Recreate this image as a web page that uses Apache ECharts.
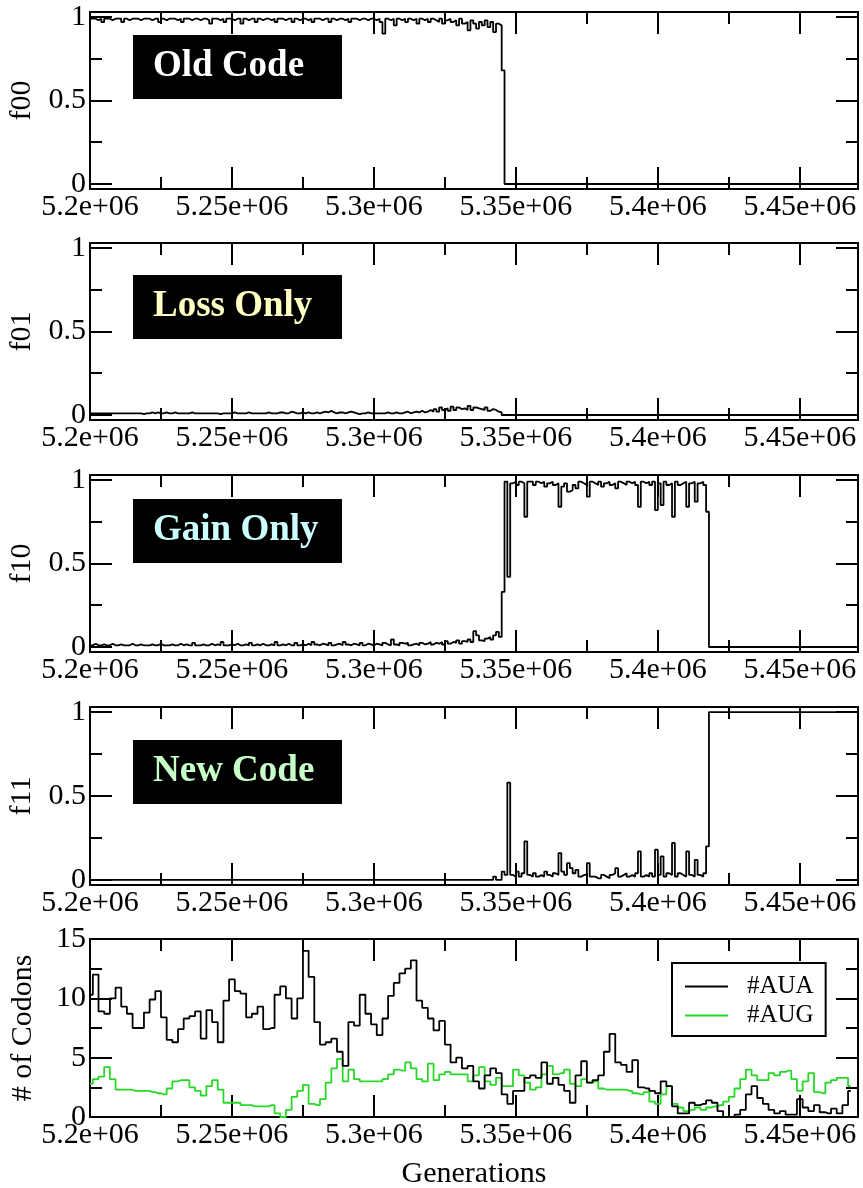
<!DOCTYPE html>
<html><head><meta charset="utf-8">
<script src="https://cdn.jsdelivr.net/npm/echarts@6/dist/echarts.min.js"></script>
<style>html,body{margin:0;padding:0;background:#fff}#c{width:863px;height:1188px}</style>
</head><body><div id="c"></div>
<script>
// ---------- data ----------
const genStart = 5200000;      // first generation of the f-series
const genStep = 1000;          // sampling step of the f-series
const codonStep = 2000;        // sampling step of the codon series
const xMin = 5200000, xMax = 5470500;
const xMajorTicks = [5200000, 5250000, 5300000, 5350000, 5400000, 5450000];
const xMinorTicks = [5225000, 5275000, 5325000, 5375000, 5425000];
const fMajorTicks = [0, 0.5, 1];
const fMinorTicks = [0.25, 0.75];
const cMajorTicks = [0, 5, 10, 15];
const cMinorTicks = [2.5, 7.5, 12.5];
const panelNames = ['f00', 'f01', 'f10', 'f11', '# of Codons'];
const boxLabels = ['Old Code', 'Loss Only', 'Gain Only', 'New Code'];
const seriesNames = ['#AUA', '#AUG'];

const f00 = [
0.99,0.99,0.98,0.99,0.97,0.99,0.99,0.98,0.99,0.99,0.99,0.97,0.99,0.98,0.99,0.99,0.99,0.98,0.99,0.99,
0.99,0.98,0.99,0.99,0.97,0.99,0.98,0.99,0.99,0.99,0.98,0.99,0.97,0.99,0.99,0.98,0.99,0.99,0.98,0.99,
0.99,0.98,0.96,0.99,0.99,0.98,0.99,0.97,0.99,0.99,0.98,0.99,0.99,0.96,0.99,0.98,0.99,0.99,0.97,0.99,
0.98,0.99,0.99,0.98,0.99,0.97,0.99,0.99,0.98,0.99,0.99,0.97,0.99,0.98,0.99,0.99,0.98,0.99,0.97,0.99,
0.99,0.98,0.99,0.99,0.97,0.99,0.98,0.99,0.99,0.98,0.99,0.97,0.99,0.99,0.98,0.99,0.99,0.98,0.99,0.99,
0.98,0.99,0.97,0.90,0.99,0.98,0.99,0.95,0.99,0.98,0.99,0.97,0.99,0.98,0.99,0.96,0.99,0.98,0.99,0.97,
0.99,0.98,0.97,0.99,0.96,0.98,0.99,0.97,0.98,0.95,0.99,0.96,0.97,0.92,0.98,0.96,0.93,0.97,0.95,0.98,0.94,0.97,0.91,0.96,0.95,
0.68,
0,0,0,0,0,0,0,0,0,0, 0,0,0,0,0,0,0,0,0,0, 0,0,0,0,0,0,0,0,0,0, 0,0,0,0,0,0,0,0,0,0,
0,0,0,0,0,0,0,0,0,0, 0,0,0,0,0,0,0,0,0,0, 0,0,0,0,0,0,0,0,0,0, 0,0,0,0,0,0,0,0,0,0,
0,0,0,0,0,0,0,0,0,0, 0,0,0,0,0,0,0,0,0,0, 0,0,0,0,0,0,0,0,0,0, 0,0,0,0,0,0,0,0,0,0,
0,0,0,0,0
];
const f01 = [
0.01,0.01,0.01,0.01,0.01,0.01,0.01,0.01,0.01,0.01,0.01,0.01,0.01,0.01,0.01,0.01,0.01,0.01,0.005,0.01,
0.01,0.015,0.01,0.015,0.01,0.01,0.015,0.01,0.01,0.015,0.01,0.01,0.01,0.01,0.01,0.015,0.01,0.01,0.01,0.01,
0.01,0.01,0.01,0.01,0.01,0.005,0.01,0.01,0.01,0.01,0.015,0.01,0.01,0.01,0.01,0.015,0.01,0.01,0.01,0.01,
0.01,0.01,0.015,0.01,0.01,0.01,0.015,0.015,0.01,0.01,0.02,0.015,0.01,0.01,0.015,0.01,0.015,0.01,0.01,0.015,
0.01,0.015,0.02,0.015,0.025,0.015,0.01,0.015,0.015,0.01,0.015,0.02,0.015,0.01,0.005,0.01,0.01,0.015,0.01,0.01,
0.01,0.01,0.01,0.01,0.015,0.01,0.01,0.015,0.01,0.01,0.015,0.02,0.01,0.015,0.02,0.015,0.025,0.015,0.02,0.03,
0.02,0.035,0.02,0.045,0.03,0.04,0.025,0.05,0.03,0.045,0.035,0.04,0.03,0.055,0.03,0.045,0.04,0.035,0.03,0.045,0.025,0.035,0.03,0.02,0.015,
0,0,0,0,0,0,0,0,0,0, 0,0,0,0,0,0,0,0,0,0, 0,0,0,0,0,0,0,0,0,0, 0,0,0,0,0,0,0,0,0,0,
0,0,0,0,0,0,0,0,0,0, 0,0,0,0,0,0,0,0,0,0, 0,0,0,0,0,0,0,0,0,0, 0,0,0,0,0,0,0,0,0,0,
0,0,0,0,0,0,0,0,0,0, 0,0,0,0,0,0,0,0,0,0, 0,0,0,0,0,0,0,0,0,0, 0,0,0,0,0,0,0,0,0,0,
0,0,0,0,0,0
];
const f10 = [
0.01,0.02,0.01,0.01,0.015,0.01,0.01,0.02,0.01,0.01,0.015,0.01,0.01,0.01,0.02,0.01,0.01,0.015,0.01,0.01,
0.01,0.015,0.01,0.01,0.02,0.01,0.01,0.01,0.015,0.01,0.01,0.02,0.01,0.015,0.01,0.01,0.025,0.01,0.01,0.015,
0.01,0.01,0.02,0.01,0.015,0.01,0.03,0.01,0.01,0.015,0.01,0.02,0.01,0.01,0.015,0.01,0.025,0.01,0.015,0.01,
0.02,0.01,0.01,0.015,0.01,0.03,0.01,0.015,0.01,0.02,0.01,0.01,0.025,0.01,0.015,0.01,0.02,0.01,0.03,0.015,
0.01,0.02,0.015,0.01,0.025,0.01,0.015,0.02,0.01,0.03,0.015,0.01,0.02,0.015,0.01,0.025,0.01,0.02,0.015,0.01,
0.02,0.015,0.01,0.025,0.015,0.01,0.045,0.015,0.01,0.025,0.02,0.025,0.01,0.015,0.02,0.01,0.025,0.015,0.02,0.03,
0.015,0.025,0.02,0.03,0.015,0.035,0.02,0.03,0.025,0.04,0.02,0.035,0.03,0.045,0.03,0.095,0.07,0.04,0.035,0.05,0.06,0.045,0.07,0.09,0.06,
0.33,
0.99,0.42,0.98,0.99,0.97,0.99,0.98,0.78,0.99,0.99,0.97,0.99,0.98,0.99,0.96,0.98,0.99,0.97,0.98,0.84,
0.96,0.98,0.93,0.94,0.97,0.95,0.99,0.98,0.97,0.90,0.99,0.98,0.97,0.99,0.96,0.98,0.99,0.97,0.98,0.95,
0.99,0.98,0.97,0.99,0.98,0.99,0.97,0.84,0.99,0.98,0.99,0.97,0.99,0.82,0.98,0.85,0.99,0.97,0.98,0.78,
0.99,0.97,0.98,0.99,0.84,0.98,0.99,0.87,0.98,0.99,0.97,0.81,
0,0,0,0,0,0,0,0,0,0, 0,0,0,0,0,0,0,0,0,0, 0,0,0,0,0,0,0,0,0,0, 0,0,0,0,0,0,0,0,0,0,
0,0,0,0,0,0,0,0,0,0, 0,0,0
];
const f11 = [
0,0,0,0,0,0,0,0,0,0, 0,0,0,0,0,0,0,0,0,0, 0,0,0,0,0,0,0,0,0,0, 0,0,0,0,0,0,0,0,0,0,
0,0,0,0,0,0,0,0,0,0, 0,0,0,0,0,0,0,0,0,0, 0,0,0,0,0,0,0,0,0,0, 0,0,0,0,0,0,0,0,0,0,
0,0,0,0,0,0,0,0,0,0, 0,0,0,0,0,0,0,0,0,0, 0,0,0,0,0,0,0,0,0,0, 0,0,0,0,0,0,0,0,0,0,
0,0,0,0,0,0,0,0,0,0, 0,0,0,0,0,0,0,0,0,0, 0,0,
0.02,0,0,0.05,
0.03,0.58,0.03,0.02,0.05,0.02,0.04,0.23,0.03,0.02,0.04,0.02,0.03,0.02,0.05,0.03,0.02,0.04,0.03,0.16,
0.05,0.03,0.10,0.07,0.04,0.06,0.02,0.03,0.03,0.10,0.02,0.02,0.01,0.01,0.03,0.02,0.01,0.03,0.04,0.07,
0.02,0.03,0.04,0.02,0.03,0.02,0.04,0.17,0.02,0.03,0.02,0.04,0.02,0.18,0.03,0.14,0.02,0.04,0.03,0.22,
0.02,0.04,0.03,0.02,0.17,0.03,0.02,0.12,0.03,0.02,0.04,0.20,
1,1,1,1,1,1,1,1,1,1, 1,1,1,1,1,1,1,1,1,1, 1,1,1,1,1,1,1,1,1,1, 1,1,1,1,1,1,1,1,1,1,
1,1,1,1,1,1,1,1,1,1, 1,1,1
];
const aua = [
10.3,12.0,8.9,8.7,10.0,10.9,9.3,8.7,7.5,7.5, 8.8,9.9,10.6,8.4,6.5,6.3,7.4,8.3,8.5,8.9,
6.6,9.0,8.0,6.3,9.8,11.6,10.6,10.4,8.4,8.7, 9.3,7.4,7.5,10.3,11.0,
10.0,8.3,10.0,14.0,11.8,8.0,6.1,6.3,6.6,5.5, 4.3,8.0,7.7,10.3,8.7,7.8,6.9,8.3,10.2,11.3,
12.1,12.5,13.2,9.8,9.2,8.3,7.3,8.1,6.1,4.6, 5.0,4.1,4.3,
3.0,2.4,3.5,4.1,3.7,1.9,1.1,2.2,2.2,3.3, 3.5,3.3,4.6,2.8,3.3,2.7,2.2,1.2,3.5,4.7,
2.9,3.1,3.5,5.5,7.0,4.6,4.4,3.8,4.8,2.5, 2.4,2.2,2.0,3.0,
2.6,0.9,0.3,0.3,1.2,1.0,1.1,1.4,1.2,0.5, 0.0,0.0,0.2,0.6,1.9,2.6,1.6,1.1,0.6,0.3,
0.5,0.2,0.2,1.5,0.8,0.5,1.0,0.4,0.3,0.7, 0.3,1.0,2.2
];
const aug = [
2.8,3.2,3.4,4.2,3.2,2.3,2.3,2.3,2.2,2.2, 2.2,2.1,2.0,1.9,2.4,3.0,3.1,3.1,2.5,2.2,
1.8,2.6,3.1,2.3,1.2,1.2,1.2,1.0,1.0,0.9, 0.9,0.9,1.0,0.3,0.0,
0.6,1.7,2.2,2.7,1.1,1.0,1.5,2.9,4.1,4.9, 3.0,4.0,3.2,3.0,3.0,3.0,3.0,3.2,3.6,4.0,
3.9,4.6,4.1,3.2,3.0,4.5,3.1,3.6,3.8,3.6, 3.6,3.6,3.0,
3.5,4.2,3.0,2.7,3.3,2.6,2.6,4.0,3.5,2.9, 2.3,2.5,3.6,4.3,3.6,3.7,4.0,2.8,2.6,3.2,
2.9,3.0,2.4,2.3,2.3,2.3,2.3,2.2,2.0,1.9, 2.1,1.3,1.1,1.9,
2.6,1.1,0.8,0.5,0.6,0.8,0.6,0.8,0.9,1.0, 1.3,1.7,2.4,3.2,4.0,3.5,3.1,3.1,3.7,3.5,
3.8,3.9,3.2,2.2,3.0,3.7,2.1,2.0,2.9,3.1, 3.3,3.3,2.6
];

// ---------- layout / style ----------
const FONT = '"Liberation Serif", "Times New Roman", serif';
const gridTops = [12, 243, 475, 707, 939];
const gridHeights = [177, 177, 177, 178, 178];
const boxTops = [35, 275, 499, 740];
const boxColors = ['#ffffff', '#ffffc4', '#ccffff', '#c8ffc8'];
const AUGcolor = '#27d827';

const fmtX = v => (v / 1e6).toFixed(2).replace(/0$/, '') + 'e+06';

const grids = [], xAxes = [], yAxes = [], series = [];
gridTops.forEach((t, g) => {
  grids.push({ left: 90, top: t, width: 768, height: gridHeights[g], outerBoundsMode: 'none', containLabel: false });
  const isCodon = g === 4;
  const yMin = isCodon ? 0 : -0.03, yMax = isCodon ? 15 : 1.03;
  const yMaj = isCodon ? cMajorTicks : fMajorTicks;
  const yMinr = isCodon ? cMinorTicks : fMinorTicks;
  [['bottom', true], ['bottom', false], ['top', true], ['top', false]].forEach(([pos, major]) => {
    const showLab = pos === 'bottom' && major;
    const ax = {
      type: 'value', gridIndex: g, position: pos, min: xMin, max: xMax,
      axisLine: { show: major, onZero: false, lineStyle: { color: '#000', width: 2 } },
      axisTick: { show: true, inside: true, length: major ? 22 : 12, customValues: major ? xMajorTicks : xMinorTicks,
                  lineStyle: { color: '#000', width: 2 } },
      axisLabel: { show: showLab, customValues: xMajorTicks, formatter: fmtX, fontSize: 30, fontFamily: FONT,
                   color: '#000', margin: 3 },
      splitLine: { show: false }
    };
    if (showLab && isCodon) {
      ax.name = 'Generations'; ax.nameLocation = 'middle'; ax.nameGap = 42;
      ax.nameTextStyle = { fontSize: 30, fontFamily: FONT, color: '#000' };
    }
    xAxes.push(ax);
  });
  [['left', true], ['left', false], ['right', true], ['right', false]].forEach(([pos, major]) => {
    const showLab = pos === 'left' && major;
    const ax = {
      type: 'value', gridIndex: g, position: pos, min: yMin, max: yMax,
      axisLine: { show: major, onZero: false, lineStyle: { color: '#000', width: 2 } },
      axisTick: { show: true, inside: true, length: major ? 22 : 12, customValues: major ? yMaj : yMinr,
                  lineStyle: { color: '#000', width: 2 } },
      axisLabel: { show: showLab, customValues: yMaj, fontSize: 30, fontFamily: FONT, color: '#000',
                   margin: 4, padding: [10, 0, 0, 0] },
      splitLine: { show: false }
    };
    if (showLab) {
      ax.name = panelNames[g]; ax.nameLocation = 'middle'; ax.nameGap = 52;
      ax.nameTextStyle = { fontSize: 30, fontFamily: FONT, color: '#000' };
    }
    yAxes.push(ax);
  });
});

[f00, f01, f10, f11].forEach((arr, g) => {
  series.push({
    type: 'line', xAxisIndex: 4 * g, yAxisIndex: 4 * g, step: 'end', showSymbol: false, symbol: 'none',
    data: arr.map((v, i) => [genStart + i * genStep, v]),
    lineStyle: { color: '#000', width: 1.8 }, color: '#000', silent: true
  });
});
[[aua, '#000'], [aug, AUGcolor]].forEach(([arr, col], s) => {
  series.push({
    name: seriesNames[s], type: 'line', xAxisIndex: 16, yAxisIndex: 16, step: 'middle', showSymbol: false, symbol: 'none',
    data: arr.map((v, i) => [genStart + i * codonStep, v]),
    lineStyle: { color: col, width: 1.8 }, color: col, silent: true, z: s === 0 ? 3 : 2
  });
});

const graphic = [];
boxLabels.forEach((t, i) => {
  graphic.push({ type: 'rect', left: 133, top: boxTops[i], shape: { width: 209, height: 64 }, style: { fill: '#000' }, z: 10 });
  graphic.push({ type: 'text', left: 153, top: boxTops[i] + 13,
    style: { text: t, fontSize: 37, fontWeight: 'bold', fontFamily: FONT, fill: boxColors[i] }, z: 11 });
});

const chart = echarts.init(document.getElementById('c'), null, { renderer: 'canvas' });
chart.setOption({
  animation: false,
  backgroundColor: '#fff',
  grid: grids, xAxis: xAxes, yAxis: yAxes, series: series, graphic: graphic,
  legend: {
    data: seriesNames, orient: 'vertical', left: 672, top: 963, selectedMode: false,
    padding: [11, 12, 8, 13], itemGap: 4, itemWidth: 43, itemHeight: 2, icon: 'rect',
    borderColor: '#000', borderWidth: 2, backgroundColor: '#fff',
    textStyle: { fontSize: 25, fontFamily: FONT, color: '#000', padding: [0, 0, 0, 14], lineHeight: 24 }
  }
});
</script></body></html>
